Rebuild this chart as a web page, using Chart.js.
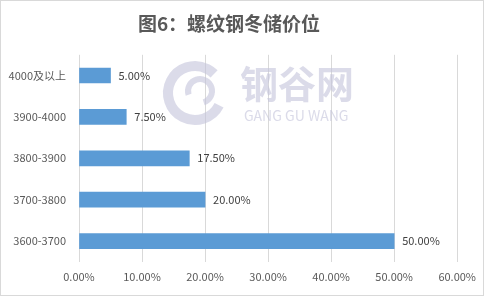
<!DOCTYPE html>
<html>
<head>
<meta charset="utf-8">
<script src="https://cdn.jsdelivr.net/npm/chart.js@4"></script>
<style>
  html, body { margin: 0; padding: 0; background: #fff; }
  #wrap { width: 484px; height: 296px; position: relative; }
</style>
</head>
<body>
<div id="wrap"><canvas id="chart"></canvas></div>
<script>
const categories = ["4000及以上", "3900-4000", "3800-3900", "3700-3800", "3600-3700"];
const shares = [5.0, 7.5, 17.5, 20.0, 50.0];
const xTicks = [0, 10, 20, 30, 40, 50, 60];

const FONT = "'Noto Sans CJK SC', 'Noto Sans', sans-serif";

// frame + faint watermark + value labels after the bars
const decorations = {
  id: "decorations",
  beforeDatasetsDraw(chart) {
    const ctx = chart.ctx;
    ctx.save();
    // watermark
    ctx.strokeStyle = "rgba(195,195,218,0.6)";
    ctx.lineWidth = 10;
    ctx.beginPath();
    ctx.arc(195, 93, 27, Math.PI * 0.15, Math.PI * 1.75);
    ctx.stroke();
    ctx.lineWidth = 6;
    ctx.beginPath();
    ctx.arc(200, 91, 12, Math.PI * 0.9, Math.PI * 2.4);
    ctx.stroke();
    ctx.fillStyle = "rgba(195,195,218,0.6)";
    ctx.font = "bold 38px " + FONT;
    ctx.textBaseline = "middle";
    ctx.fillText("钢谷网", 240, 84);
    ctx.font = "14px " + FONT;
    ctx.fillText("GANG GU WANG", 244, 116);
    ctx.restore();
  },
  afterDatasetsDraw(chart) {
    const ctx = chart.ctx;
    const meta = chart.getDatasetMeta(0);
    ctx.save();
    ctx.fillStyle = "#404040";
    ctx.font = "11px " + FONT;
    ctx.textBaseline = "middle";
    meta.data.forEach((bar, i) => {
      ctx.fillText(shares[i].toFixed(2) + "%", bar.x + 8, bar.y);
    });
    ctx.restore();
  },
  afterDraw(chart) {
    const ctx = chart.ctx;
    ctx.save();
    ctx.strokeStyle = "#d9d9d9";
    ctx.lineWidth = 1;
    ctx.strokeRect(0.5, 0.5, chart.width - 1, chart.height - 1);
    ctx.restore();
  }
};

const ctx = document.getElementById("chart").getContext("2d");
new Chart(ctx, {
  type: "bar",
  data: {
    labels: categories,
    datasets: [{
      data: shares,
      backgroundColor: "#5b9bd5",
      barThickness: 15
    }]
  },
  options: {
    indexAxis: "y",
    responsive: true,
    maintainAspectRatio: false,
    animation: false,
    layout: { padding: { left: 0, right: 26, top: 0, bottom: 5 } },
    plugins: {
      legend: { display: false },
      tooltip: { enabled: false },
      title: {
        display: true,
        text: "图6：螺纹钢冬储价位",
        color: "#595959",
        font: { family: FONT, size: 19, weight: "bold" },
        padding: { top: 12, bottom: 20 }
      }
    },
    scales: {
      x: {
        min: 0,
        max: 60,
        afterBuildTicks(axis) { axis.ticks = xTicks.map(v => ({ value: v })); },
        ticks: {
          color: "#595959",
          font: { family: FONT, size: 11 },
          padding: 8,
          callback: v => v.toFixed(2) + "%"
        },
        grid: { color: "#d9d9d9", drawTicks: false },
        border: { display: false }
      },
      y: {
        afterFit(axis) { axis.width = 79; },
        ticks: {
          color: "#595959",
          font: { family: FONT, size: 11 },
          padding: 5
        },
        grid: { display: false },
        border: { display: false }
      }
    }
  },
  plugins: [decorations]
});
</script>
</body>
</html>
